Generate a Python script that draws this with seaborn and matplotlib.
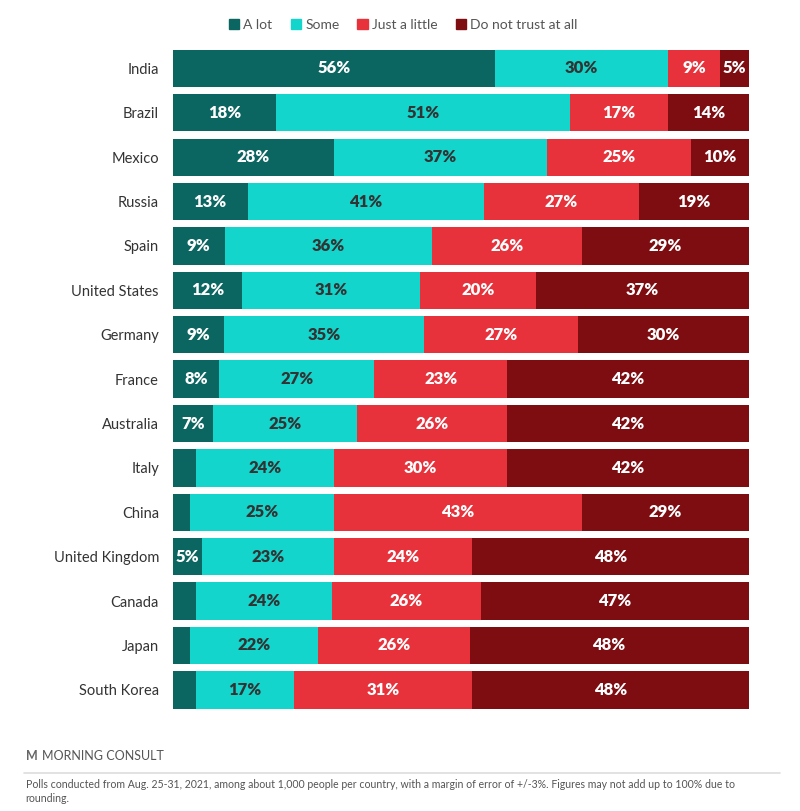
import numpy as np
import pandas as pd
import matplotlib.pyplot as plt
import seaborn as sns

countries = ["India", "Brazil", "Mexico", "Russia", "Spain", "United States", "Germany",
             "France", "Australia", "Italy", "China", "United Kingdom", "Canada", "Japan",
             "South Korea"]
a_lot = [56, 18, 28, 13, 9, 12, 9, 8, 7, 4, 3, 5, 4, 3, 4]
some = [30, 51, 37, 41, 36, 31, 35, 27, 25, 24, 25, 23, 24, 22, 17]
just_a_little = [9, 17, 25, 27, 26, 20, 27, 23, 26, 30, 43, 24, 26, 26, 31]
not_at_all = [5, 14, 10, 19, 29, 37, 30, 42, 42, 42, 29, 48, 47, 48, 48]

series = ["A lot", "Some", "Just a little", "Do not trust at all"]
colors = ["#0b6561", "#14d5cc", "#e8323b", "#7e0d12"]
text_colors = ["white", "#333333", "white", "white"]

df = pd.DataFrame({"country": countries, "A lot": a_lot, "Some": some,
                   "Just a little": just_a_little, "Do not trust at all": not_at_all})
# bars are drawn as shares of each row total (rows don't all add to exactly 100)
total = df[series].sum(axis=1)
shares = df[series].div(total, axis=0) * 100
shares["country"] = df["country"]

sns.set_style("white")
plt.rcParams["font.family"] = ["Lato", "DejaVu Sans"]

fig = plt.figure(figsize=(8, 8.11), dpi=100)
ax = fig.add_axes([0.216, 0.122, 0.72, 0.821])

left = np.zeros(len(df))
for name, col, tcol in zip(series, colors, text_colors):
    sns.barplot(data=shares, y="country", x=name, color=col, left=left, width=0.84,
                orient="h", ax=ax, saturation=1, linewidth=0)
    for i, (v, w) in enumerate(zip(df[name], shares[name])):
        if v >= 5:
            ax.text(left[i] + w / 2, i, f"{v}%", ha="center", va="center",
                    color=tcol, fontsize=12, fontweight="heavy")
    left = left + shares[name].values

ax.set_xlim(0, 100)
ax.set_ylim(len(df) - 0.5, -0.5)
ax.set_xlabel("")
ax.set_ylabel("")
ax.set_xticks([])
ax.tick_params(axis="y", length=0, pad=10, labelsize=10.5, labelcolor="#333333")
sns.despine(ax=ax, left=True, bottom=True)

# legend
handles = [plt.Rectangle((0, 0), 1, 1, color=c) for c in colors]
fig.legend(handles, series, loc="center", bbox_to_anchor=(0.504, 0.969), ncol=4,
           frameon=False, fontsize=10, handlelength=0.75, handleheight=0.75,
           handletextpad=0.3, columnspacing=1.3, labelcolor="#555555")

# footer
fig.text(0.032, 0.068, "M", fontsize=9, color="#666666", fontweight="bold", va="center")
fig.text(0.052, 0.068, "MORNING CONSULT", fontsize=9, color="#555555", va="center")
fig.add_artist(plt.Line2D([0.03, 0.975], [0.047, 0.047], color="#dddddd", lw=1.2))
fig.text(0.032, 0.04, "Polls conducted from Aug. 25-31, 2021, among about 1,000 people per country, "
         "with a margin of error of +/-3%. Figures may not add up to 100% due to\nrounding.",
         fontsize=7.6, color="#555555", va="top", linespacing=1.35)

fig.savefig("out.png", dpi=100)
